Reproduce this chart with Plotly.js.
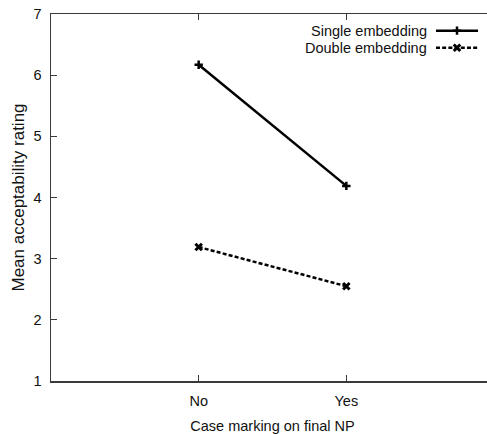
<!DOCTYPE html>
<html>
<head>
<meta charset="utf-8">
<script src="https://cdn.plot.ly/plotly-3.0.1.min.js"></script>
<style>
html,body{margin:0;padding:0;overflow:hidden;background:#fff;width:487px;height:434px;}
#chart{width:494px;height:434px;}
</style>
</head>
<body>
<div id="chart"></div>
<script>
// Data
const categories = ["No", "Yes"];
const seriesNames = ["Single embedding", "Double embedding"];
const singleValues = [6.17, 4.19];
const doubleValues = [3.19, 2.55];
const yTickVals = [1, 2, 3, 4, 5, 6, 7];

const FONT = "Liberation Sans, Arial, sans-serif";
const AX = "#3a3a3a";
const TXT = "#111";

const singleStyle = {
  line: {color: "#000", width: 2.5},
  marker: {symbol: "cross-thin", size: 6, line: {color: "#000", width: 2.5}, color: "#000"}
};
const doubleStyle = {
  line: {color: "#000", width: 2.5, dash: "4px,2.2px"},
  marker: {symbol: "x-thin", size: 6.5, line: {color: "#000", width: 3}, color: "#000"}
};

// legend sample positions (layout fractions on hidden overlay axes)
const LEG_X = [0.869, 0.9165, 0.964];
const LEG_Y = [0.9546, 0.908];

const traces = [
  Object.assign({x: categories, y: singleValues, type: "scatter", mode: "lines+markers",
    name: seriesNames[0], showlegend: false, hoverinfo: "skip"}, singleStyle),
  Object.assign({x: categories, y: doubleValues, type: "scatter", mode: "lines+markers",
    name: seriesNames[1], showlegend: false, hoverinfo: "skip"}, doubleStyle),
  Object.assign({x: LEG_X, y: LEG_X.map(() => LEG_Y[0]), xaxis: "x2", yaxis: "y2",
    type: "scatter", mode: "lines", showlegend: false, hoverinfo: "skip"}, {line: singleStyle.line}),
  Object.assign({x: [LEG_X[1]], y: [LEG_Y[0]], xaxis: "x2", yaxis: "y2",
    type: "scatter", mode: "markers", showlegend: false, hoverinfo: "skip"}, {marker: singleStyle.marker}),
  Object.assign({x: LEG_X, y: LEG_X.map(() => LEG_Y[1]), xaxis: "x2", yaxis: "y2",
    type: "scatter", mode: "lines", showlegend: false, hoverinfo: "skip"}, {line: doubleStyle.line}),
  Object.assign({x: [LEG_X[1]], y: [LEG_Y[1]], xaxis: "x2", yaxis: "y2",
    type: "scatter", mode: "markers", showlegend: false, hoverinfo: "skip"}, {marker: doubleStyle.marker})
];

const layout = {
  width: 494, height: 434,
  margin: {l: 51, r: 0, t: 14, b: 52.5},
  paper_bgcolor: "#fff", plot_bgcolor: "#fff",
  font: {family: FONT, size: 14, color: TXT},
  showlegend: false,
  xaxis: {
    type: "category", categoryorder: "array", categoryarray: categories,
    range: [-1, 2],
    showline: true, linecolor: AX, linewidth: 1.5, mirror: "allticks",
    ticks: "inside", ticklen: 6, tickwidth: 1, tickcolor: AX,
    showgrid: false, zeroline: false,
    tickfont: {family: FONT, size: 14.5, color: TXT},
    ticklabelstandoff: 6,
    title: {text: "Case marking on final NP", font: {family: FONT, size: 14.5, color: TXT}, standoff: 15}
  },
  yaxis: {
    range: [1, 7], tickvals: yTickVals,
    showline: true, linecolor: AX, linewidth: 1.5, mirror: "allticks",
    ticks: "inside", ticklen: 6, tickwidth: 1, tickcolor: AX,
    showgrid: false, zeroline: false,
    tickfont: {family: FONT, size: 14.5, color: TXT},
    ticklabelstandoff: 5,
    title: {text: "Mean acceptability rating", font: {family: FONT, size: 17, color: TXT}, standoff: 4}
  },
  xaxis2: {overlaying: "x", range: [0, 1], visible: false, fixedrange: true},
  yaxis2: {overlaying: "y", range: [0, 1], visible: false, fixedrange: true},
  annotations: [
    {xref: "paper", yref: "paper", x: 0.853, y: LEG_Y[0], xanchor: "right", yanchor: "middle",
     text: seriesNames[0], showarrow: false, font: {family: FONT, size: 14.5, color: TXT}},
    {xref: "paper", yref: "paper", x: 0.853, y: LEG_Y[1], xanchor: "right", yanchor: "middle",
     text: seriesNames[1], showarrow: false, font: {family: FONT, size: 14.5, color: TXT}}
  ]
};

Plotly.newPlot("chart", traces, layout, {staticPlot: true, displayModeBar: false});
</script>
</body>
</html>
